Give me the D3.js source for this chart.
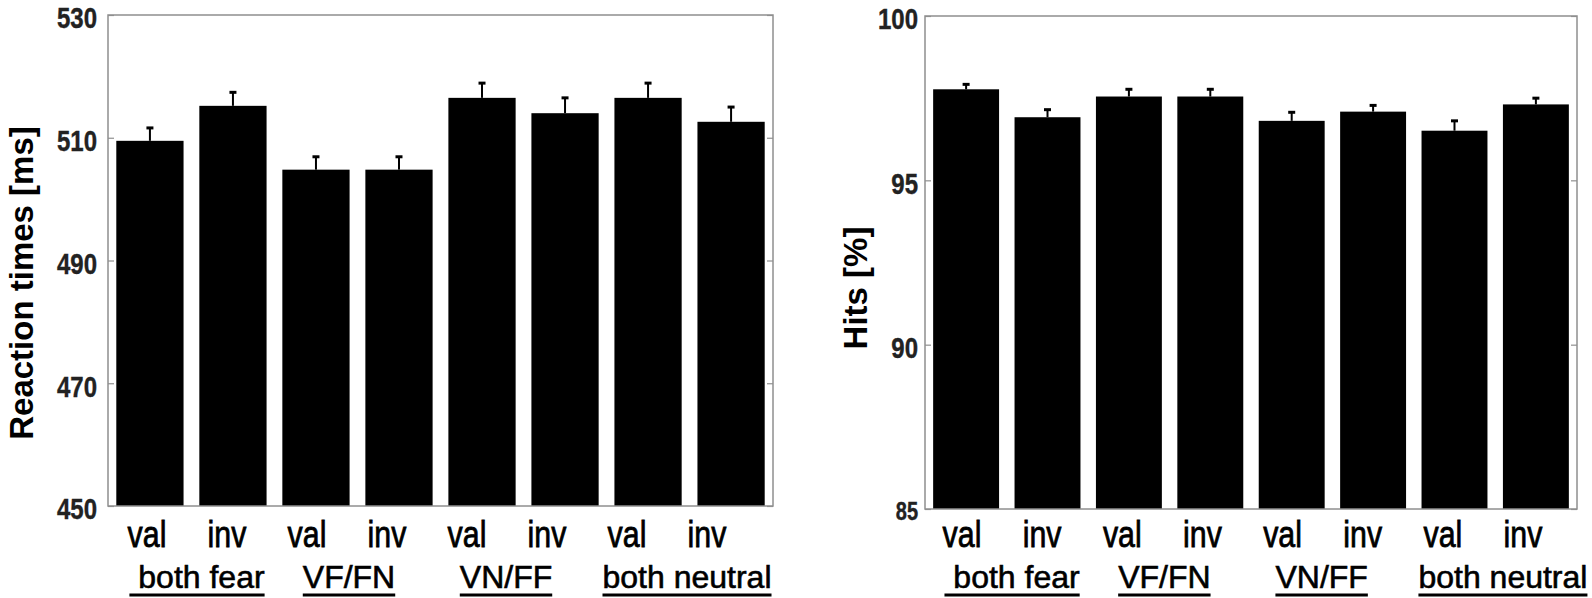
<!DOCTYPE html>
<html>
<head>
<meta charset="utf-8">
<script src="https://cdn.jsdelivr.net/npm/d3@7/dist/d3.min.js"></script>
<style>
  body { margin: 0; background: #fff; }
</style>
</head>
<body>
<div id="chart"></div>
<script>
// cue condition under each bar
var cues = ["val", "inv", "val", "inv", "val", "inv", "val", "inv"];
// face-pair groups (two bars each)
var groups = [" both fear", "VF/FN", "VN/FF", "both neutral"];

// reaction times [ms]
var rtMean = [509.5, 515.2, 504.8, 504.8, 516.5, 514.0, 516.5, 512.6];
var rtErr = [2.1, 2.2, 2.1, 2.1, 2.4, 2.5, 2.4, 2.4];
var rtTicks = [450, 470, 490, 510, 530];

// hits [%]
var hitMean = [97.77, 96.92, 97.55, 97.55, 96.81, 97.09, 96.51, 97.31];
var hitErr = [0.15, 0.23, 0.22, 0.22, 0.26, 0.19, 0.30, 0.19];
var hitTicks = [85, 90, 95, 100];

var W = 1592, H = 598;
var sans = "'Liberation Sans', Arial, sans-serif";
// no narrow font installed -> squeeze Liberation Sans horizontally
var tickSqueeze = 0.8, cueSqueeze = 0.82;

var svg = d3.select("#chart").append("svg")
    .attr("width", W)
    .attr("height", H)
    .style("background", "#fff");

// 两个面板的布局
var panels = [
    {mean: rtMean, err: rtErr, ticks: rtTicks, domain: [450, 530], title: "Reaction times [ms]",
     x0: 108, x1: 773, y0: 15, y1: 506, titleX: 21, titleY: 283, pad: 11, cueIn: [39, 66]},
    {mean: hitMean, err: hitErr, ticks: hitTicks, domain: [85, 100], title: "Hits [%]",
     x0: 925, x1: 1577, y0: 16, y1: 509, titleX: 855, titleY: 288, pad: 7, cueIn: [37, 54]}
];

var groupShift = [10, 2, -1, 20];

panels.forEach(function (p) {
    var x = d3.scaleBand()
        .domain(d3.range(cues.length))
        .range([p.x0, p.x1])
        .paddingInner(0.19)
        .paddingOuter(0.1);
    var y = d3.scaleLinear().domain(p.domain).range([p.y1, p.y0]);
    var g = svg.append("g");

    // bars
    g.selectAll("rect.bar")
        .data(p.mean)
        .enter().append("rect")
        .attr("class", "bar")
        .attr("x", function (d, i) { return x(i); })
        .attr("y", function (d) { return y(d); })
        .attr("width", x.bandwidth())
        .attr("height", function (d) { return y(p.domain[0]) - y(d); })
        .attr("fill", "#000");

    // error bars (upper half only)
    var eb = g.selectAll("g.err")
        .data(p.mean)
        .enter().append("g")
        .attr("class", "err");
    eb.append("line")
        .attr("x1", function (d, i) { return x(i) + x.bandwidth() / 2; })
        .attr("x2", function (d, i) { return x(i) + x.bandwidth() / 2; })
        .attr("y1", function (d) { return y(d); })
        .attr("y2", function (d, i) { return y(d + p.err[i]); })
        .attr("stroke", "#000")
        .attr("stroke-width", 2);
    eb.append("line")
        .attr("x1", function (d, i) { return x(i) + x.bandwidth() / 2 - 3.5; })
        .attr("x2", function (d, i) { return x(i) + x.bandwidth() / 2 + 3.5; })
        .attr("y1", function (d, i) { return y(d + p.err[i]); })
        .attr("y2", function (d, i) { return y(d + p.err[i]); })
        .attr("stroke", "#000")
        .attr("stroke-width", 3);

    // box
    g.append("rect")
        .attr("x", p.x0)
        .attr("y", p.y0)
        .attr("width", p.x1 - p.x0)
        .attr("height", p.y1 - p.y0)
        .attr("fill", "none")
        .attr("stroke", "#8f8f8f")
        .attr("stroke-width", 1.5);

    // left axis, ticks inside
    var ax = g.append("g")
        .attr("transform", "translate(" + p.x0 + ",0)")
        .call(d3.axisLeft(y).tickValues(p.ticks).tickSize(-6).tickPadding(p.pad / tickSqueeze));
    ax.select(".domain").remove();
    ax.selectAll(".tick line").attr("stroke", "#8f8f8f").attr("stroke-width", 1.2);
    ax.selectAll(".tick text")
        .attr("fill", "#222")
        .attr("stroke", "#222")
        .attr("stroke-width", 0.4)
        .attr("dy", "0.43em")
        .attr("transform", "scale(" + tickSqueeze + ",1)")
        .style("font-family", sans)
        .style("font-weight", "bold")
        .style("font-size", function (d) { return d === 85 ? "25px" : "30px"; });

    // right side ticks
    var axr = g.append("g")
        .attr("transform", "translate(" + p.x1 + ",0)")
        .call(d3.axisRight(y).tickValues(p.ticks).tickSize(-6).tickFormat(""));
    axr.select(".domain").remove();
    axr.selectAll(".tick line").attr("stroke", "#8f8f8f").attr("stroke-width", 1.2);

    // y title
    g.append("text")
        .attr("transform", "translate(" + p.titleX + "," + p.titleY + ") rotate(-90)")
        .attr("text-anchor", "middle")
        .attr("dy", "0.36em")
        .style("font-family", sans)
        .style("font-weight", "bold")
        .style("font-size", "33px")
        .attr("fill", "#000")
        .text(p.title);

    // cue labels
    var lx = d3.scalePoint()
        .domain(d3.range(cues.length))
        .range([p.x0 + p.cueIn[0], p.x1 - p.cueIn[1]]);
    g.selectAll("text.cue")
        .data(cues)
        .enter().append("text")
        .attr("class", "cue")
        .attr("transform", function (d, i) {
            return "translate(" + lx(i) + ",547) scale(" + cueSqueeze + ",1)";
        })
        .attr("text-anchor", "middle")
        .style("font-family", sans)
        .style("font-size", "37px")
        .attr("fill", "#000")
        .attr("stroke", "#000")
        .attr("stroke-width", 0.8)
        .text(function (d) { return d; });

    // group labels with underline
    groups.forEach(function (name, k) {
        var cx = (lx(2 * k) + lx(2 * k + 1)) / 2 + groupShift[k];
        var t = g.append("text")
            .attr("x", cx)
            .attr("y", 588)
            .attr("text-anchor", "middle")
            .style("font-family", sans)
            .style("font-size", "32px")
            .style("white-space", "pre")
            .attr("fill", "#000")
            .attr("stroke", "#000")
            .attr("stroke-width", 0.6)
            .text(name);
        var w = t.node().getComputedTextLength();
        g.append("line")
            .attr("x1", cx - w / 2)
            .attr("x2", cx + w / 2)
            .attr("y1", 595)
            .attr("y2", 595)
            .attr("stroke", "#000")
            .attr("stroke-width", 3);
    });
});
</script>
</body>
</html>
